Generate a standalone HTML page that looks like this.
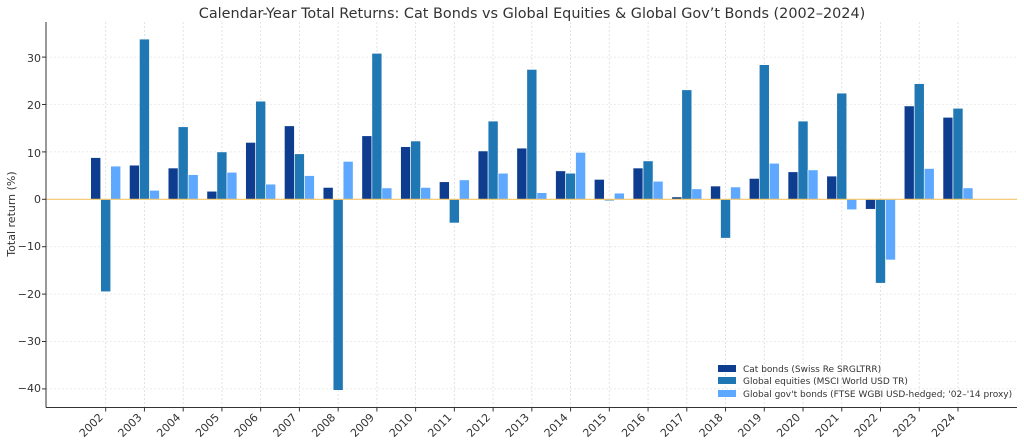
<!DOCTYPE html>
<html><head><meta charset="utf-8"><style>
html,body{margin:0;padding:0;background:#fff;}
svg{display:block;font-family:"DejaVu Sans","Liberation Sans",sans-serif;}
</style></head><body>
<svg id="s" width="1024" height="444" viewBox="0 0 1024 444" xmlns="http://www.w3.org/2000/svg">
<rect width="1024" height="444" fill="#fff"/>
<g id="grid"></g>
<g id="bars"></g>
<line x1="46" y1="199.3" x2="1017" y2="199.3" stroke="#f5c66a" stroke-width="1.2"/>
<line x1="46" y1="22" x2="46" y2="407.5" stroke="#333" stroke-width="1"/>
<line x1="46" y1="407.5" x2="1017" y2="407.5" stroke="#333" stroke-width="1"/>
<g id="ticks"></g>
<text x="532" y="18" text-anchor="middle" font-size="14.4" fill="#333">Calendar-Year Total Returns: Cat Bonds vs Global Equities &amp; Global Gov’t Bonds (2002–2024)</text>
<text transform="translate(15,214) rotate(-90)" text-anchor="middle" font-size="11" fill="#333">Total return (%)</text>
<g font-size="11" fill="#333" text-anchor="end">
<text x="41" y="62">30</text><text x="41" y="109">20</text><text x="41" y="157">10</text><text x="41" y="203">0</text>
<text x="41" y="250">−10</text><text x="41" y="298">−20</text><text x="41" y="345">−30</text><text x="41" y="392">−40</text>
</g>
<g font-size="11" fill="#333" text-anchor="end" id="yl">
<text>2002</text><text>2003</text><text>2004</text><text>2005</text><text>2006</text><text>2007</text><text>2008</text><text>2009</text><text>2010</text><text>2011</text><text>2012</text><text>2013</text><text>2014</text><text>2015</text><text>2016</text><text>2017</text><text>2018</text><text>2019</text><text>2020</text><text>2021</text><text>2022</text><text>2023</text><text>2024</text>
</g>
<g font-size="9" fill="#333">
<rect x="718" y="365" width="18" height="7" fill="#0e3d8f"/><text x="743" y="372">Cat bonds (Swiss Re SRGLTRR)</text>
<rect x="718" y="377" width="18" height="7" fill="#1f77b4"/><text x="743" y="384">Global equities (MSCI World USD TR)</text>
<rect x="718" y="390" width="18" height="7" fill="#5fa8ff"/><text x="743" y="397">Global gov't bonds (FTSE WGBI USD-hedged; '02–'14 proxy)</text>
</g>
</svg>
<script>
var d=[[8.8,-19.5,7.0],[7.2,33.8,1.9],[6.6,15.3,5.2],[1.7,10.0,5.7],[12.0,20.7,3.2],[15.5,9.6,5.0],[2.5,-40.3,8.0],[13.4,30.8,2.4],[11.1,12.3,2.5],[3.7,-5.0,4.1],[10.2,16.5,5.5],[10.8,27.4,1.4],[6.0,5.5,9.9],[4.2,-0.3,1.3],[6.6,8.1,3.8],[0.5,23.1,2.2],[2.8,-8.2,2.6],[4.4,28.4,7.6],[5.8,16.5,6.2],[4.9,22.4,-2.2],[-2.1,-17.7,-12.8],[19.7,24.4,6.5],[17.3,19.2,2.4]];
var c=["#0e3d8f","#1f77b4","#5fa8ff"],NS="http://www.w3.org/2000/svg";
function Y(v){return 199.3-v*4.74;}
function el(t,a,p){var e=document.createElementNS(NS,t);for(var k in a)e.setAttribute(k,a[k]);document.getElementById(p).appendChild(e);return e;}
for(var v=-40;v<=30;v+=10){if(v)el("line",{x1:46,x2:1017,y1:Y(v),y2:Y(v),stroke:"#e6e6e6","stroke-width":0.8,"stroke-dasharray":"2,2"},"grid");el("line",{x1:42,x2:46,y1:Y(v),y2:Y(v),stroke:"#333"},"ticks");}
var labs=document.querySelectorAll("#yl text");
for(var i=0;i<23;i++){var x=105.7+i*38.74;
el("line",{x1:x,x2:x,y1:22,y2:407,stroke:"#dcdcdc","stroke-width":0.8,"stroke-dasharray":"2,2"},"grid");
el("line",{x1:x,x2:x,y1:407.5,y2:411.5,stroke:"#333"},"ticks");
for(var j=0;j<3;j++){var v=d[i][j],y0=Y(Math.max(v,0)),h=Math.abs(v)*4.74;
el("rect",{x:x-15+j*10,y:y0,width:10,height:Math.max(h,0.5),fill:c[j],stroke:"#fff","stroke-width":0.6},"bars");}
labs[i].setAttribute("transform","translate("+(x-2)+",418) rotate(-45)");}
</script>
</body></html>
